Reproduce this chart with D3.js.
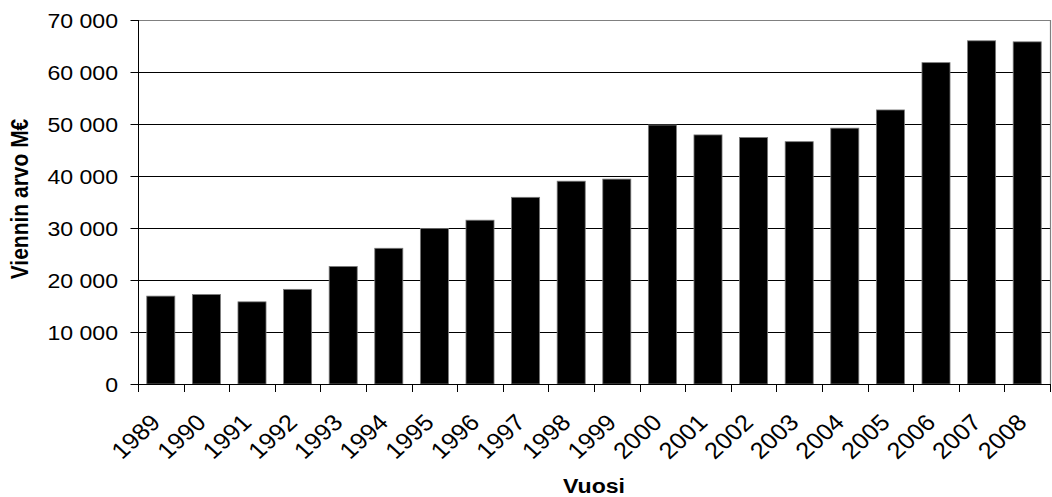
<!DOCTYPE html>
<html>
<head>
<meta charset="utf-8">
<script src="https://cdn.jsdelivr.net/npm/d3@7"></script>
<style>
  html, body { margin: 0; padding: 0; background: #fff; }
  svg { display: block; }
  text { font-family: "Liberation Sans", Arial, sans-serif; fill: #000; }
</style>
</head>
<body>
<svg id="chart" width="1052" height="497"></svg>
<script>
const years = ["1989","1990","1991","1992","1993","1994","1995","1996","1997","1998","1999","2000","2001","2002","2003","2004","2005","2006","2007","2008"];
const values = [16900, 17200, 15800, 18200, 22600, 26100, 29900, 31500, 35900, 39000, 39400, 49800, 47900, 47400, 46600, 49200, 52700, 61800, 66000, 65800];
const yTicks = [0, 10000, 20000, 30000, 40000, 50000, 60000, 70000];
const yTitle = "Viennin arvo M€";
const xTitle = "Vuosi";

const svg = d3.select("#chart");
const pL = 138, pR = 1050, pT = 20, pB = 384;
const SX = 1.1; // horizontal stretch of the reference typography

const x = d3.scaleBand().domain(years).range([pL, pR]).paddingInner(0.385).paddingOuter(0.1925);
const xb = d3.scaleBand().domain(years).range([pL, pR]);
const y = d3.scaleLinear().domain([0, 70000]).range([pB, pT]);

const fmt = v => d3.format(",")(v).replace(/,/g, " ");

// gridlines
svg.append("g").selectAll("line").data(yTicks.filter(t => t > 0 && t < 70000)).join("line")
  .attr("x1", pL).attr("x2", pR)
  .attr("y1", d => Math.round(y(d)) + 0.5).attr("y2", d => Math.round(y(d)) + 0.5)
  .attr("stroke", "#000").attr("stroke-width", 1);

// plot border top/right
svg.append("path")
  .attr("d", `M${pL},${pT + 0.5}H${pR + 0.5}V${pB}`)
  .attr("fill", "none").attr("stroke", "#808080").attr("stroke-width", 1.2);

// bars
svg.append("g").selectAll("rect").data(years).join("rect")
  .attr("x", d => x(d))
  .attr("width", x.bandwidth())
  .attr("y", (d, i) => y(values[i]))
  .attr("height", (d, i) => pB - y(values[i]))
  .attr("fill", "#000").attr("stroke", "#7a7a7a").attr("stroke-width", 0.8);

// y axis
const yAxis = d3.axisLeft(y).tickValues(yTicks).tickFormat(fmt).tickSize(8);
const gy = svg.append("g").attr("transform", `translate(${pL + 0.5},0)`).call(yAxis);
gy.select(".domain").attr("stroke", "#000").attr("d", `M0,${pT}V${pB}`);
gy.selectAll(".tick line").attr("stroke", "#000");
gy.selectAll(".tick text").remove();
svg.append("g").selectAll("text").data(yTicks).join("text")
  .attr("transform", d => `translate(118,${y(d)}) scale(${SX},1)`)
  .attr("text-anchor", "end").attr("dy", "0.36em")
  .style("font-size", "21px")
  .text(fmt);

// x axis
const xAxis = d3.axisBottom(xb).tickSize(0).tickFormat(d => d);
const gx = svg.append("g").attr("transform", `translate(0,${pB + 0.5})`).call(xAxis);
gx.select(".domain").attr("stroke", "#000").attr("d", `M${pL},0H${pR}`);
gx.selectAll(".tick text").remove();
// boundary ticks
const bounds = years.map(d => xb(d)).concat([pR]);
svg.append("g").selectAll("line").data(bounds).join("line")
  .attr("x1", d => Math.round(d) + 0.5).attr("x2", d => Math.round(d) + 0.5)
  .attr("y1", pB).attr("y2", pB + 8)
  .attr("stroke", "#000");

// rotated labels
svg.append("g").selectAll("text").data(years).join("text")
  .attr("transform", d => `translate(${xb(d) + xb.bandwidth() / 2 + 1},${424}) scale(${SX},1) rotate(-45)`)
  .attr("text-anchor", "end")
  .style("font-size", "23px")
  .text(d => d);

// titles
svg.append("text")
  .attr("transform", `translate(28,${199}) scale(${SX},1) rotate(-90)`)
  .attr("text-anchor", "middle")
  .style("font-size", "21px").style("font-weight", "bold")
  .text(yTitle);

svg.append("text")
  .attr("transform", `translate(${(pL + pR) / 2},493) scale(${SX},1)`)
  .attr("text-anchor", "middle")
  .style("font-size", "21px").style("font-weight", "bold")
  .text(xTitle);
</script>
</body>
</html>
